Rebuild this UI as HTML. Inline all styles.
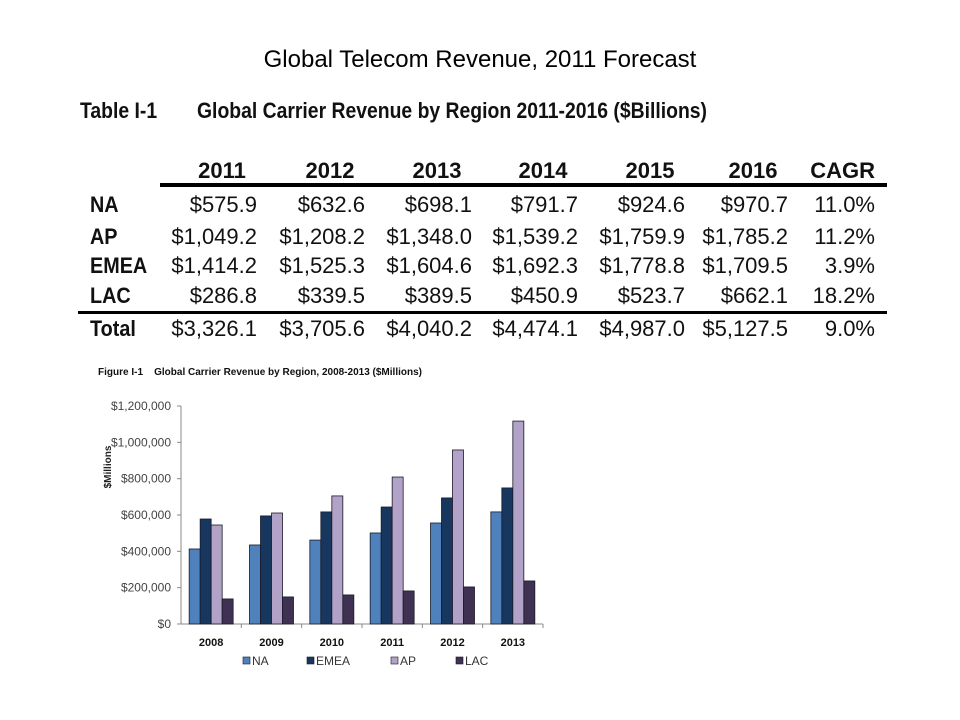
<!DOCTYPE html>
<html><head><meta charset="utf-8"><style>
body{margin:0;background:#fff;}
#root{position:relative;width:960px;height:720px;overflow:hidden;font-family:"Liberation Sans",sans-serif;}
.t{position:absolute;white-space:nowrap;}
.nar{font-family:"Liberation Sans Narrow","Liberation Sans",sans-serif;}
</style></head><body>
<div id="root">
<div class="t" style="left:0;width:960px;text-align:center;top:46px;font-size:24px;color:#000;">Global Telecom Revenue, 2011 Forecast</div>
<div class="t nar" style="left:80px;top:98px;font-size:22px;font-weight:bold;color:#111;transform:scaleX(0.88);transform-origin:0 0;">Table I-1</div>
<div class="t nar" style="left:197px;top:98px;font-size:22px;font-weight:bold;color:#111;transform:scaleX(0.88);transform-origin:0 0;">Global Carrier Revenue by Region 2011-2016 ($Billions)</div>
<div id="tbl"></div>
<div class="t" style="left:98px;top:367px;font-size:10px;font-weight:bold;color:#111;">Figure I-1&nbsp;&nbsp;&nbsp; Global Carrier Revenue by Region, 2008-2013 ($Millions)</div>
<svg id="chart" width="960" height="720" style="position:absolute;left:0;top:0"></svg>
</div>
<script>
// table data
const tblCols=["2011","2012","2013","2014","2015","2016","CAGR"];
const tblRows=["NA","AP","EMEA","LAC","Total"];
const tblNA=["$575.9","$632.6","$698.1","$791.7","$924.6","$970.7","11.0%"];
const tblAP=["$1,049.2","$1,208.2","$1,348.0","$1,539.2","$1,759.9","$1,785.2","11.2%"];
const tblEMEA=["$1,414.2","$1,525.3","$1,604.6","$1,692.3","$1,778.8","$1,709.5","3.9%"];
const tblLAC=["$286.8","$339.5","$389.5","$450.9","$523.7","$662.1","18.2%"];
const tblTotal=["$3,326.1","$3,705.6","$4,040.2","$4,474.1","$4,987.0","$5,127.5","9.0%"];

// chart data
const years=["2008","2009","2010","2011","2012","2013"];
const seriesNames=["NA","EMEA","AP","LAC"];
const naVals=[413000,435000,462000,501000,556000,617000];
const emeaVals=[578000,595000,617000,644000,694000,749000];
const apVals=[545000,611000,705000,809000,958000,1117000];
const lacVals=[138000,149000,160000,182000,204000,237000];
const yTicks=[0,200000,400000,600000,800000,1000000,1200000];
const yTickLabels=["$0","$200,000","$400,000","$600,000","$800,000","$1,000,000","$1,200,000"];

const tbl=document.getElementById('tbl');
const colRight=[257,365,472,578,685,788,875];
const rowY=[205,237,266,296,329];
function addDiv(txt,css){const d=document.createElement('div');d.className='t nar';d.textContent=txt;d.style.cssText=css;tbl.appendChild(d);return d;}
tblCols.forEach((c,i)=>{
 const d=addDiv(c,`left:${colRight[i]-70}px;width:70px;text-align:${i==6?'right':'center'};top:${171-13}px;font-size:22px;font-weight:bold;color:#111;`);
 
 
});
const rowData=[tblNA,tblAP,tblEMEA,tblLAC,tblTotal];
tblRows.forEach((r,ri)=>{
 const d=addDiv(r,`left:90px;top:${rowY[ri]-13}px;font-size:22px;font-weight:bold;color:#111;transform:scaleX(0.9);transform-origin:0 0;`);
 
 
 rowData[ri].forEach((v,ci)=>{
  const e=addDiv(v,`left:${colRight[ci]-110}px;width:110px;text-align:right;top:${rowY[ri]-13}px;font-size:22px;color:#111;`);
  
  
 });
});
function hl(x,y,w,h,name){const d=document.createElement('div');d.style.cssText=`position:absolute;left:${x}px;top:${y}px;width:${w}px;height:${h}px;background:#000;`;
 
 
 tbl.appendChild(d);}
hl(160,183,727,4,'header-rule');
hl(78,311,809,3,'total-rule');

// chart
const NS="http://www.w3.org/2000/svg";
const svg=document.getElementById('chart');
const x0=181,x1=543,yBase=624,yTop=406,yMax=1200000;
const yS=v=>yBase-(v/yMax)*(yBase-yTop);
const gW=(x1-x0)/years.length;
function el(tag,attrs,txt){const e=document.createElementNS(NS,tag);for(const k in attrs)e.setAttribute(k,attrs[k]);if(txt!=null)e.textContent=txt;svg.appendChild(e);return e;}
yTicks.forEach((t,i)=>{
 const y=yS(t);
 const tk=el('line',{x1:x0-4,x2:x0,y1:y,y2:y,stroke:'#888'});
 
 
 const lb=el('text',{x:x0-10,y:y+4,'text-anchor':'end','font-size':'12',fill:'#444','font-family':'Liberation Sans Narrow, Liberation Sans, sans-serif'},yTickLabels[i]);
 
 
});
const ya=el('line',{x1:x0,x2:x0,y1:yTop,y2:yBase,stroke:'#888'});


const xa=el('line',{x1:x0,x2:x1,y1:yBase,y2:yBase,stroke:'#888'});


const yt=el('text',{x:0,y:0,transform:`translate(111,467) rotate(-90)`,'text-anchor':'middle','font-size':'10','font-weight':'bold',fill:'#222','font-family':'Liberation Sans Narrow, Liberation Sans, sans-serif'},'$Millions');


const colors=["#4f81bd","#17375e","#b3a2c7","#3f3151"];
const vals=[naVals,emeaVals,apVals,lacVals];
const bw=11;
years.forEach((yr,gi)=>{
 const gx=x0+gi*gW;
 const tk=el('line',{x1:gx+gW,x2:gx+gW,y1:yBase,y2:yBase+4,stroke:'#888'});
 
 
 const start=gx+(gW-4*bw)/2;
 vals.forEach((s,si)=>{
  const y=yS(s[gi]);
  const r=el('rect',{x:start+si*bw,y:y,width:bw,height:yBase-y,fill:colors[si],stroke:'#1a1a2a','stroke-width':'0.8'});
  
  
 });
 const lb=el('text',{x:gx+gW/2,y:646,'text-anchor':'middle','font-size':'11','font-weight':'bold',fill:'#111','font-family':'Liberation Sans Narrow, Liberation Sans, sans-serif'},yr);
 
 
});
const legX=[243,307,391,456];
seriesNames.forEach((n,i)=>{
 const sq=el('rect',{x:legX[i],y:657,width:7,height:7,fill:colors[i],stroke:'#1a1a2a','stroke-width':'0.6'});
 
 
 const t=el('text',{x:legX[i]+9,y:665,'font-size':'12',fill:'#333','font-family':'Liberation Sans Narrow, Liberation Sans, sans-serif'},n);
 
 
});
</script>
</body></html>
